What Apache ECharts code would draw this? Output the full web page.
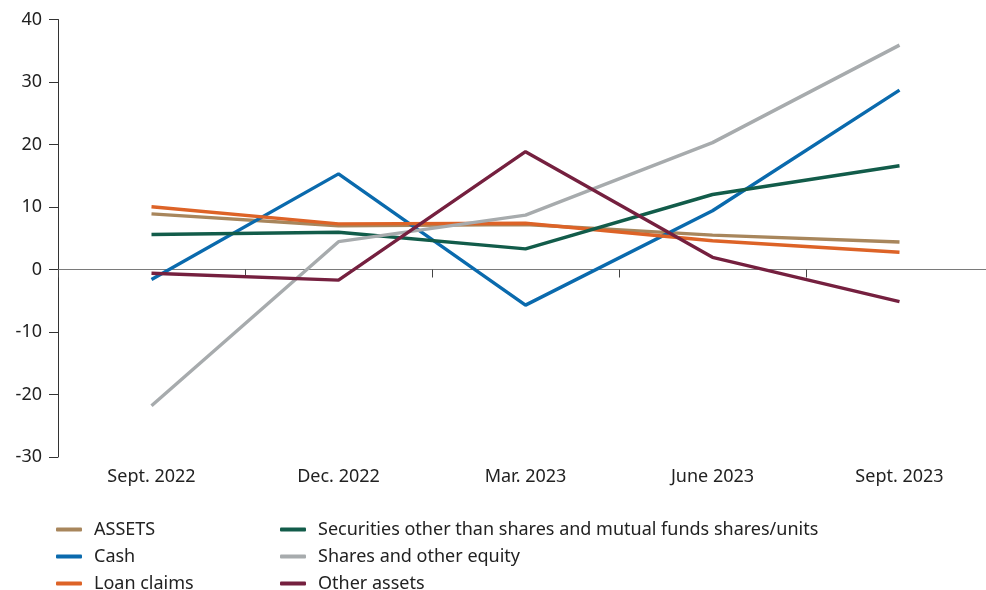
<!DOCTYPE html>
<html>
<head>
<meta charset="utf-8">
<script src="https://cdn.jsdelivr.net/npm/echarts@6/dist/echarts.min.js"></script>
<style>
  html, body { margin: 0; padding: 0; background: #fff; }
  #chart { width: 986px; height: 590px; }
</style>
</head>
<body>
<div id="chart"></div>
<script>
const categories = ['Sept. 2022', 'Dec. 2022', 'Mar. 2023', 'June 2023', 'Sept. 2023'];

const assets     = [8.9, 7.0, 7.2, 5.5, 4.4];
const cash       = [-1.6, 15.3, -5.7, 9.4, 28.7];
const loanClaims = [10.05, 7.3, 7.4, 4.6, 2.75];
const securities = [5.6, 5.95, 3.3, 12.0, 16.6];
const shares     = [-21.8, 4.45, 8.7, 20.3, 35.9];
const otherAssets = [-0.6, -1.7, 18.85, 1.95, -5.15];

const names = [
  'ASSETS',
  'Cash',
  'Loan claims',
  'Securities other than shares and mutual funds shares/units',
  'Shares and other equity',
  'Other assets'
];
const colors = ['#a8865c', '#0a6aad', '#dd6327', '#125c4a', '#a7abad', '#75203f'];
const values = [assets, cash, loanClaims, securities, shares, otherAssets];

const font = 'Noto Sans';
const textColor = '#222';

const chart = echarts.init(document.getElementById('chart'));

const legendBase = {
  orient: 'vertical',
  top: 520.5,
  height: 100,
  itemWidth: 26,
  itemHeight: 4,
  itemGap: 9,
  icon: 'roundRect',
  padding: 0,
  textStyle: { fontFamily: font, fontSize: 18, color: textColor, padding: [0, 0, 0, 7] },
  selectedMode: false
};

const option = {
  animation: false,
  grid: { left: 58, top: 19.5, right: -7, bottom: 133, containLabel: false, outerBoundsMode: 'none' },
  legend: [
    Object.assign({}, legendBase, { left: 56, data: names.slice(0, 3) }),
    Object.assign({}, legendBase, { left: 280, data: names.slice(3) })
  ],
  xAxis: [
    {
      type: 'category',
      data: categories,
      axisLine: { onZero: true, lineStyle: { color: '#7a7a7a', width: 1.2 } },
      axisTick: { show: true, length: 8, lineStyle: { color: '#444' } },
      axisLabel: { show: false }
    },
    {
      type: 'category',
      data: categories,
      position: 'bottom',
      axisLine: { show: false, onZero: false },
      axisTick: { show: false },
      axisLabel: { fontFamily: font, fontSize: 18, color: textColor, margin: 11 }
    }
  ],
  yAxis: {
    type: 'value',
    min: -30,
    max: 40,
    interval: 10,
    splitLine: { show: false },
    axisLine: { show: true, lineStyle: { color: '#333', width: 1 } },
    axisTick: { show: true, length: 9, lineStyle: { color: '#333' } },
    axisLabel: { fontFamily: font, fontSize: 18, color: textColor, margin: 16 }
  },
  series: values.map((v, i) => ({
    name: names[i],
    type: 'line',
    xAxisIndex: 0,
    data: v,
    symbol: 'none',
    color: colors[i],
    lineStyle: { width: 3.4, color: colors[i] }
  }))
};

chart.setOption(option);
</script>
</body>
</html>
